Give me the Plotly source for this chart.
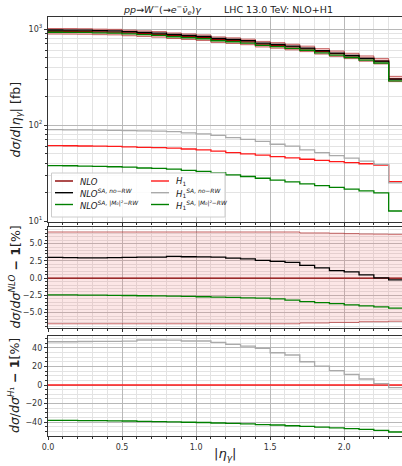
import plotly.graph_objects as go

# ---------------------------------------------------------------
# Photon pseudo-rapidity spectrum, pp -> W-(-> e- nu_e~) gamma
# ---------------------------------------------------------------
eta_edges = [0.0, 0.1, 0.2, 0.3, 0.4, 0.5, 0.6, 0.7, 0.8, 0.9, 1.0, 1.1,
             1.2, 1.3, 1.4, 1.5, 1.6, 1.7, 1.8, 1.9, 2.0, 2.1, 2.2, 2.3, 2.4]

# absolute predictions, dsigma/d|eta_gamma| in fb
nlo = [948, 947, 944, 935, 930, 911, 896, 881, 853, 833, 814, 776,
       758, 735, 696, 676, 650, 622, 586, 554, 525, 493, 462, 302]
h1 = [61.0, 60.8, 60.5, 60.2, 59.8, 59.3, 58.5, 58.2, 57.6, 56.3, 55.0, 53.5,
      51.5, 50.0, 48.5, 46.8, 45.5, 44.0, 42.8, 41.5, 40.5, 39.5, 38.3, 25.7]

# relative deviations from NLO, in percent
nlo_sa_norw_pct = [3.0, 2.98, 2.95, 2.95, 2.97, 3.0, 3.05, 3.05, 3.15, 3.1, 3.08, 3.05,
                   2.9, 2.8, 2.56, 2.42, 2.27, 1.84, 1.5, 1.1, 0.92, 0.48, 0.05, -0.25]
nlo_sa_m0_pct = [-2.42, -2.43, -2.45, -2.47, -2.5, -2.52, -2.55, -2.58, -2.6, -2.65, -2.7, -2.75,
                 -2.8, -2.85, -2.9, -3.0, -3.2, -3.4, -3.54, -3.69, -3.88, -4.03, -4.17, -4.36]
nlo_scale_up_pct = [6.69, 6.69, 6.69, 6.69, 6.69, 6.69, 6.69, 6.69, 6.69, 6.69, 6.69, 6.69,
                    6.69, 6.69, 6.69, 6.69, 6.69, 6.55, 6.55, 6.5, 6.45, 6.4, 6.38, 6.35]
nlo_scale_dn_pct = [-6.62, -6.62, -6.62, -6.62, -6.62, -6.62, -6.62, -6.62, -6.62, -6.62, -6.62, -6.62,
                    -6.62, -6.62, -6.62, -6.62, -6.62, -6.5, -6.5, -6.42, -6.42, -6.32, -6.32, -6.25]

# relative deviations from H1, in percent
h1_sa_norw_pct = [46.5, 46.5, 46.8, 47.0, 47.0, 47.2, 48.4, 48.4, 48.2, 47.3, 47.3, 45.9,
                  43.8, 41.9, 39.4, 34.7, 32.3, 25.0, 20.4, 15.4, 11.5, 6.5, 1.4, -2.9]
h1_sa_m0_pct = [-38.0, -38.1, -38.2, -38.3, -38.5, -38.7, -39.0, -39.3, -39.6, -40.0, -40.3, -40.8,
                -41.3, -41.8, -42.5, -43.0, -43.8, -44.5, -45.3, -46.0, -46.8, -47.7, -48.8, -50.5]

zeros = [0.0] * len(nlo)


def scaled(base, pct):
    return [b * (1 + p / 100.0) for b, p in zip(base, pct)]


def step(vals):
    # histogram drawn as a step line over the bin edges
    return list(vals) + [vals[-1]]


C_NLO = "#8b0000"
C_H1 = "#ff1a1a"
C_BLACK = "#000000"
C_GREEN = "#008000"
C_GRAY = "#aaaaaa"
BAND_EDGE = "rgba(170,30,30,0.65)"
FONT = "DejaVu Sans"

fig = go.Figure()


def add_line(y, color, xa, ya, width=1.3):
    fig.add_trace(go.Scatter(x=eta_edges, y=step(y), mode="lines", line_shape="hv",
                             line=dict(color=color, width=width),
                             xaxis=xa, yaxis=ya, showlegend=False, hoverinfo="skip"))


def add_band(lo, hi, xa, ya, fill):
    fig.add_trace(go.Scatter(x=eta_edges, y=step(lo), mode="lines", line_shape="hv",
                             line=dict(color=BAND_EDGE, width=1),
                             xaxis=xa, yaxis=ya, showlegend=False, hoverinfo="skip"))
    fig.add_trace(go.Scatter(x=eta_edges, y=step(hi), mode="lines", line_shape="hv",
                             line=dict(color=BAND_EDGE, width=1), fill="tonexty",
                             fillcolor=fill,
                             xaxis=xa, yaxis=ya, showlegend=False, hoverinfo="skip"))


# --- main panel
add_band(scaled(nlo, nlo_scale_dn_pct), scaled(nlo, nlo_scale_up_pct), "x", "y",
         "rgba(240,128,128,0.35)")
add_line(nlo, C_NLO, "x", "y")
add_line(scaled(nlo, nlo_sa_norw_pct), C_BLACK, "x", "y")
add_line(scaled(nlo, nlo_sa_m0_pct), C_GREEN, "x", "y")
add_line(h1, C_H1, "x", "y")
add_line(scaled(h1, h1_sa_norw_pct), C_GRAY, "x", "y")
add_line(scaled(h1, h1_sa_m0_pct), C_GREEN, "x", "y")

# --- ratio to NLO
add_band(nlo_scale_dn_pct, nlo_scale_up_pct, "x2", "y2", "rgba(240,128,128,0.2)")
add_line(zeros, C_NLO, "x2", "y2")
add_line(nlo_sa_norw_pct, C_BLACK, "x2", "y2")
add_line(nlo_sa_m0_pct, C_GREEN, "x2", "y2")

# --- ratio to H1
add_line(zeros, C_H1, "x3", "y3", width=1.6)
add_line(h1_sa_norw_pct, C_GRAY, "x3", "y3")
add_line(h1_sa_m0_pct, C_GREEN, "x3", "y3")

# geometry helpers (pixel -> paper)
W, H = 402, 466
ML, MR, MT, MB = 48, 0, 17, 30
PW, PH = W - ML - MR, H - MT - MB


def px(x):
    return (x - ML) / PW


def py(y):
    return (H - MB - y) / PH


AX_COL = "#333333"
GRID = "#b8b8b8"
MINOR_GRID = "#e3e3e3"
TICKFONT = dict(family=FONT, size=8, color="#333333")

xcommon = dict(range=[0, 2.39], showline=True, linecolor=AX_COL, linewidth=1.2, mirror=True,
               ticks="outside", ticklen=3, tickcolor=AX_COL, tick0=0, dtick=0.5,
               showgrid=True, gridcolor=GRID, gridwidth=0.8, zeroline=False,
               tickfont=TICKFONT, tickformat=".1f",
               minor=dict(tick0=0, dtick=0.1, ticks="outside", ticklen=2, tickcolor=AX_COL,
                          showgrid=True, gridcolor=MINOR_GRID, gridwidth=0.8))
ycommon = dict(showline=True, linecolor=AX_COL, linewidth=1.2, mirror=False,
               ticks="outside", ticklen=3, tickcolor=AX_COL,
               showgrid=True, gridcolor=GRID, gridwidth=0.8, zeroline=False,
               tickfont=TICKFONT)

log_minor = [v * m for v in (10, 100) for m in range(2, 10)] + [2000]

fig.update_layout(
    width=W, height=H,
    margin=dict(l=ML, r=MR, t=MT, b=MB),
    paper_bgcolor="white", plot_bgcolor="white",
    font=dict(family=FONT, color="#222222"),
    showlegend=False,
    xaxis=dict(xcommon, anchor="y", domain=[0, 1], showticklabels=False),
    xaxis2=dict(xcommon, anchor="y2", domain=[0, 1], showticklabels=False, matches="x"),
    xaxis3=dict(xcommon, anchor="y3", domain=[0, 1], showticklabels=True, matches="x"),
    yaxis=dict(ycommon, anchor="x", domain=[py(222), py(17)], type="log",
               range=[0.99, 3.125], tickmode="array", tickvals=[10, 100, 1000],
               ticktext=["10<sup>1</sup>", "10<sup>2</sup>", "10<sup>3</sup>"],
               minor=dict(tickmode="array", tickvals=log_minor, ticks="outside", ticklen=2,
                          tickcolor=AX_COL, showgrid=True, gridcolor=MINOR_GRID, gridwidth=0.8)),
    yaxis2=dict(ycommon, anchor="x2", domain=[py(328.3), py(227)], range=[-7.27, 7.41],
                tickmode="array", tickvals=[-5.0, -2.5, 0.0, 2.5, 5.0],
                ticktext=["−5.0", "−2.5", "0.0", "2.5", "5.0"],
                minor=dict(tick0=0, dtick=0.5, ticks="outside", ticklen=2, tickcolor=AX_COL,
                           showgrid=True, gridcolor=MINOR_GRID, gridwidth=0.8)),
    yaxis3=dict(ycommon, anchor="x3", domain=[0, py(336)], range=[-54.8, 52.7],
                tickmode="array", tickvals=[-40, -20, 0, 20, 40],
                ticktext=["−40", "−20", "0", "20", "40"],
                minor=dict(tick0=0, dtick=5, ticks="outside", ticklen=2, tickcolor=AX_COL,
                           showgrid=True, gridcolor=MINOR_GRID, gridwidth=0.8)),
)

annotations = []
shapes = []

# titles
annotations.append(dict(
    text="<i>pp</i>→<i>W</i><sup>−</sup>(→<i>e</i><sup>−</sup><i>ν̄</i><sub><i>e</i></sub>)<i>γ</i>",
    x=px(204), y=py(10), xref="paper", yref="paper", xanchor="right", yanchor="middle",
    showarrow=False, font=dict(family=FONT, size=9.5, color="#222222")))
annotations.append(dict(
    text="LHC 13.0 TeV: NLO+H1",
    x=px(278.5), y=py(10), xref="paper", yref="paper", xanchor="center", yanchor="middle",
    showarrow=False, font=dict(family=FONT, size=9.5, color="#222222")))

# axis titles
ytitle_font = dict(family=FONT, size=12.5, color="#222222")
annotations.append(dict(
    text="<i>dσ</i>/<i>d</i>|<i>η</i><sub><i>γ</i></sub>| [fb]",
    x=px(16), y=py(119.5), xref="paper", yref="paper", textangle=-90,
    xanchor="center", yanchor="middle", showarrow=False, font=ytitle_font))
annotations.append(dict(
    text="<i>dσ</i>/<i>dσ</i><sup><i>NLO</i></sup> <b>− 1</b>[%]",
    x=px(14), y=py(277.5), xref="paper", yref="paper", textangle=-90,
    xanchor="center", yanchor="middle", showarrow=False, font=ytitle_font))
annotations.append(dict(
    text="<i>dσ</i>/<i>dσ</i><sup><i>H</i>₁</sup> <b>− 1</b>[%]",
    x=px(14), y=py(386), xref="paper", yref="paper", textangle=-90,
    xanchor="center", yanchor="middle", showarrow=False, font=ytitle_font))
annotations.append(dict(
    text="|<i>η</i><sub><i>γ</i></sub>|",
    x=px(225.5), y=py(454), xref="paper", yref="paper",
    xanchor="center", yanchor="middle", showarrow=False,
    font=dict(family=FONT, size=13, color="#222222")))

# legend box
shapes.append(dict(type="rect", xref="paper", yref="paper", layer="above",
                   x0=px(51.5), x1=px(225), y0=py(217), y1=py(173),
                   fillcolor="rgba(255,255,255,0.85)", line=dict(color="#cccccc", width=1)))

legend_entries = [
    ("<i>NLO</i>", C_NLO, 0, 181),
    ("<i>NLO</i><sup><i>SA, no−RW</i></sup>", C_BLACK, 0, 192.7),
    ("<i>NLO</i><sup><i>SA, |M₀|²−RW</i></sup>", C_GREEN, 0, 204.5),
    ("<i>H</i><sub>1</sub>", C_H1, 1, 181),
    ("<i>H</i><sub>1</sub><sup><i>SA, no−RW</i></sup>", C_GRAY, 1, 192.7),
    ("<i>H</i><sub>1</sub><sup><i>SA, |M₀|²−RW</i></sup>", C_GREEN, 1, 204.5),
]
col_line = [(55, 73), (151, 169)]
col_text = [78, 174]
for label, color, col, ypix in legend_entries:
    x0, x1 = col_line[col]
    shapes.append(dict(type="line", xref="paper", yref="paper", layer="above",
                       x0=px(x0), x1=px(x1), y0=py(ypix), y1=py(ypix),
                       line=dict(color=color, width=1.4)))
    annotations.append(dict(text=label, x=px(col_text[col]), y=py(ypix + 0.5),
                            xref="paper", yref="paper", xanchor="left", yanchor="middle",
                            showarrow=False, font=dict(family=FONT, size=8.5, color="#222222")))

fig.update_layout(annotations=annotations, shapes=shapes)

fig.write_html("out.html")
